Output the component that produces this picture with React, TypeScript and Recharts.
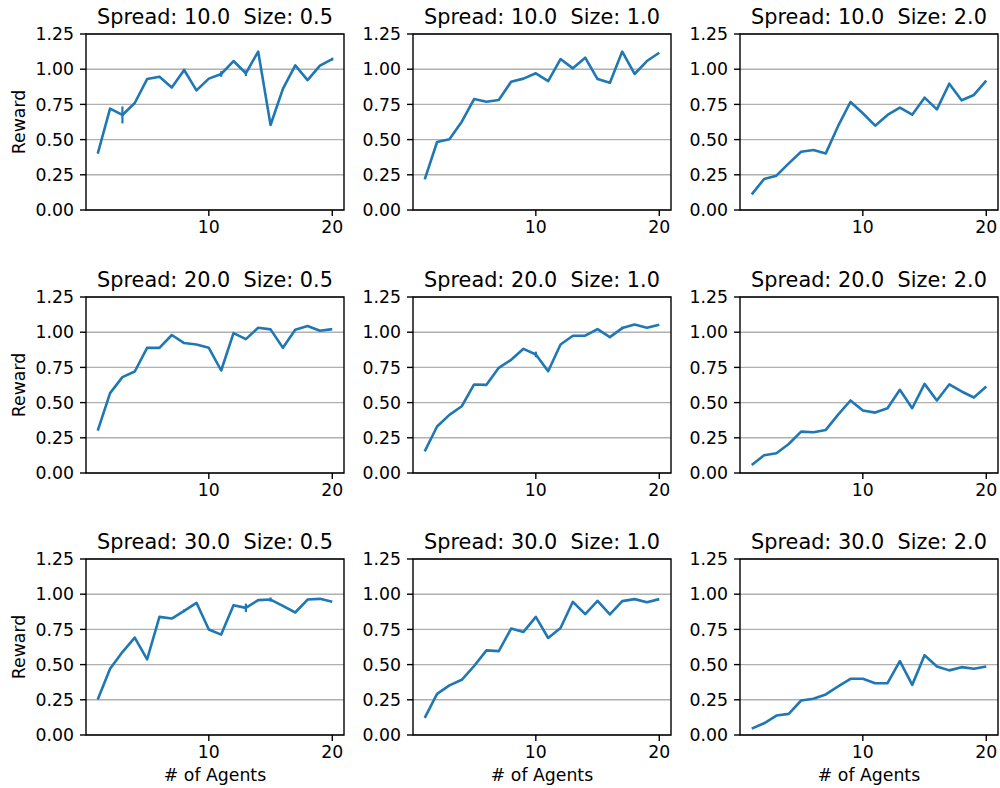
import React from "react";
import { LineChart, Line, XAxis, YAxis, CartesianGrid, ReferenceArea, ErrorBar } from "recharts";

const AGENTS = [1, 2, 3, 4, 5, 6, 7, 8, 9, 10, 11, 12, 13, 14, 15, 16, 17, 18, 19, 20];
const Y_TICKS = [0, 0.25, 0.5, 0.75, 1.0, 1.25];
const X_TICKS = [10, 20];

// mean reward per number of agents, one array per (spread, size) pair
const S10_Z05 = [0.40, 0.72, 0.675, 0.76, 0.93, 0.947, 0.87, 0.994, 0.85, 0.933, 0.966, 1.058, 0.971, 1.125, 0.604, 0.86, 1.027, 0.923, 1.025, 1.072];
const S10_Z10 = [0.218, 0.483, 0.502, 0.627, 0.788, 0.769, 0.781, 0.911, 0.933, 0.971, 0.916, 1.072, 1.006, 1.082, 0.93, 0.904, 1.125, 0.966, 1.058, 1.117];
const S10_Z20 = [0.111, 0.22, 0.244, 0.331, 0.414, 0.426, 0.402, 0.597, 0.767, 0.687, 0.599, 0.675, 0.727, 0.677, 0.798, 0.715, 0.897, 0.779, 0.817, 0.919];
const S20_Z05 = [0.301, 0.567, 0.681, 0.721, 0.889, 0.889, 0.98, 0.923, 0.913, 0.889, 0.728, 0.994, 0.951, 1.032, 1.02, 0.889, 1.018, 1.044, 1.01, 1.022];
const S20_Z10 = [0.154, 0.33, 0.413, 0.474, 0.629, 0.626, 0.747, 0.804, 0.882, 0.842, 0.723, 0.913, 0.975, 0.975, 1.022, 0.965, 1.029, 1.055, 1.032, 1.053];
const S20_Z20 = [0.057, 0.126, 0.14, 0.206, 0.294, 0.289, 0.306, 0.415, 0.515, 0.444, 0.429, 0.46, 0.591, 0.46, 0.633, 0.515, 0.629, 0.579, 0.536, 0.614];
const S30_Z05 = [0.252, 0.471, 0.589, 0.692, 0.537, 0.839, 0.827, 0.882, 0.939, 0.749, 0.713, 0.922, 0.903, 0.958, 0.962, 0.917, 0.87, 0.962, 0.967, 0.946];
const S30_Z10 = [0.121, 0.292, 0.352, 0.392, 0.49, 0.601, 0.596, 0.756, 0.732, 0.839, 0.689, 0.76, 0.946, 0.858, 0.953, 0.856, 0.951, 0.965, 0.943, 0.965];
const S30_Z20 = [0.045, 0.083, 0.138, 0.15, 0.245, 0.257, 0.288, 0.345, 0.399, 0.399, 0.368, 0.368, 0.525, 0.356, 0.566, 0.487, 0.459, 0.482, 0.471, 0.487];

// error bars (only a few are visible)
const S10_Z05_ERR = [0, 0, 0.06, 0, 0, 0, 0, 0.01, 0, 0, 0.02, 0, 0.02, 0, 0, 0, 0, 0, 0, 0.01];
const S20_Z10_ERR = [0, 0, 0, 0, 0, 0, 0, 0, 0, 0.02, 0, 0, 0, 0, 0, 0, 0.01, 0, 0, 0];
const S30_Z05_ERR = [0, 0, 0, 0, 0, 0, 0, 0.01, 0, 0, 0, 0, 0.03, 0, 0.015, 0, 0, 0, 0, 0];
const NO_ERR = [0, 0, 0, 0, 0, 0, 0, 0, 0, 0, 0, 0, 0, 0, 0, 0, 0, 0, 0, 0];

const SPREADS = ["10.0", "20.0", "30.0"];
const SIZES = ["0.5", "1.0", "2.0"];
const VALUES = [
  [S10_Z05, S10_Z10, S10_Z20],
  [S20_Z05, S20_Z10, S20_Z20],
  [S30_Z05, S30_Z10, S30_Z20],
];
const ERRORS = [
  [S10_Z05_ERR, NO_ERR, NO_ERR],
  [NO_ERR, S20_Z10_ERR, NO_ERR],
  [S30_Z05_ERR, NO_ERR, NO_ERR],
];

const FONT = "DejaVu Sans";
const BLUE = "#1f77b4";
const COL_LEFT = [86, 413, 740];
const ROW_TOP = [34, 297, 559];
const PW = 258;
const PH = 176;
const AXIS_W = 70;
const TOP_M = 10;
const RIGHT_M = 2;
const XAXIS_H = 40;
const TICK_FS = 17.3;
const TITLE_FS = 20.8;

const tickStyle = { fill: "#000", fontSize: TICK_FS, fontFamily: FONT };
const tickLine = { stroke: "#000", strokeWidth: 1.4 };

function Panel({ r, c }: { r: number; c: number }) {
  const data = AGENTS.map((n, i) => ({ n, reward: VALUES[r][c][i], err: ERRORS[r][c][i] }));
  return (
    <div style={{ position: "absolute", left: COL_LEFT[c] - AXIS_W, top: ROW_TOP[r] - TOP_M }}>
      <LineChart
        width={AXIS_W + PW + RIGHT_M}
        height={TOP_M + PH + XAXIS_H}
        data={data}
        margin={{ top: TOP_M, right: RIGHT_M, bottom: 0, left: 0 }}
      >
        <CartesianGrid vertical={false} stroke="#b0b0b0" strokeWidth={1.4} />
        <XAxis
          dataKey="n"
          type="number"
          domain={[0.05, 20.95]}
          ticks={X_TICKS}
          interval={0}
          height={XAXIS_H}
          axisLine={false}
          tickLine={tickLine}
          tickSize={6}
          tickMargin={5}
          tick={tickStyle}
        />
        <YAxis
          type="number"
          domain={[0, 1.25]}
          ticks={Y_TICKS}
          interval={0}
          width={AXIS_W}
          axisLine={false}
          tickLine={tickLine}
          tickSize={6}
          tickMargin={6}
          tick={tickStyle}
          tickFormatter={(v: number) => v.toFixed(2)}
        />
        <ReferenceArea x1={0.05} x2={20.95} y1={0} y2={1.25} fill="none" fillOpacity={0} stroke="#000" strokeWidth={1.4} ifOverflow="visible" />
        <Line
          type="linear"
          dataKey="reward"
          stroke={BLUE}
          strokeWidth={2.6}
          strokeLinejoin="round"
          dot={false}
          isAnimationActive={false}
        >
          <ErrorBar dataKey="err" direction="y" width={0} stroke={BLUE} strokeWidth={2.2} />
        </Line>
      </LineChart>
    </div>
  );
}

export default function App() {
  const cells: { r: number; c: number }[] = [];
  SPREADS.forEach((_, r) => SIZES.forEach((__, c) => cells.push({ r, c })));
  return (
    <div style={{ position: "absolute", left: 0, top: 0, width: 1000, height: 788, overflow: "hidden", background: "#fff" }}>
      {cells.map(({ r, c }) => (
        <Panel key={`${r}-${c}`} r={r} c={c} />
      ))}
      <svg width={1000} height={788} style={{ position: "absolute", left: 0, top: 0, pointerEvents: "none" }}>
        {cells.map(({ r, c }) => (
          <text
            key={`t-${r}-${c}`}
            x={COL_LEFT[c] + PW / 2}
            y={ROW_TOP[r] - 10}
            textAnchor="middle"
            fontFamily={FONT}
            fontSize={TITLE_FS}
            fill="#000"
          >
            {`Spread: ${SPREADS[r]}\u00a0\u00a0Size: ${SIZES[c]}`}
          </text>
        ))}
        {SPREADS.map((_, r) => (
          <text
            key={`y-${r}`}
            transform={`translate(25, ${ROW_TOP[r] + PH / 2}) rotate(-90)`}
            textAnchor="middle"
            fontFamily={FONT}
            fontSize={TICK_FS}
            fill="#000"
          >
            Reward
          </text>
        ))}
        {SIZES.map((_, c) => (
          <text
            key={`x-${c}`}
            x={COL_LEFT[c] + PW / 2}
            y={781}
            textAnchor="middle"
            fontFamily={FONT}
            fontSize={TICK_FS}
            fill="#000"
          >
            # of Agents
          </text>
        ))}
      </svg>
    </div>
  );
}
